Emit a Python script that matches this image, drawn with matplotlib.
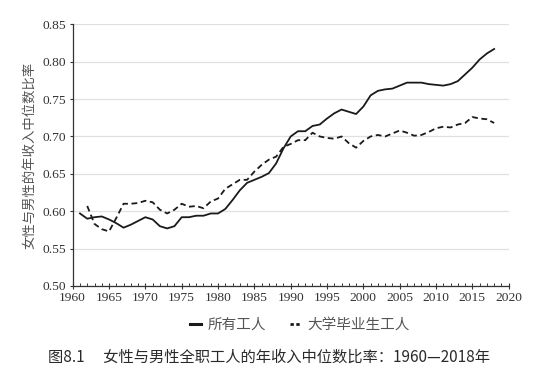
import matplotlib
matplotlib.use("Agg")
import matplotlib.pyplot as plt
from matplotlib.ticker import MultipleLocator
from matplotlib.lines import Line2D

years_all = list(range(1961, 2019))
all_workers = [0.597, 0.590, 0.592, 0.593, 0.589, 0.584, 0.578, 0.582, 0.587, 0.592,
               0.589, 0.580, 0.577, 0.580, 0.592, 0.592, 0.594, 0.594, 0.597, 0.597,
               0.603, 0.615, 0.628, 0.638, 0.642, 0.646, 0.651, 0.664, 0.684, 0.700,
               0.707, 0.707, 0.714, 0.716, 0.724, 0.731, 0.736, 0.733, 0.730, 0.740,
               0.755, 0.761, 0.763, 0.764, 0.768, 0.772, 0.772, 0.772, 0.770, 0.769,
               0.768, 0.770, 0.774, 0.783, 0.792, 0.803, 0.811, 0.817]

years_col = list(range(1962, 2019))
college = [0.607, 0.583, 0.576, 0.573, 0.591, 0.610, 0.610, 0.611, 0.614, 0.612,
           0.602, 0.597, 0.602, 0.610, 0.606, 0.607, 0.604, 0.613, 0.617, 0.630,
           0.636, 0.642, 0.642, 0.653, 0.662, 0.669, 0.673, 0.686, 0.690, 0.695,
           0.695, 0.705, 0.700, 0.698, 0.697, 0.700, 0.691, 0.685, 0.694, 0.700,
           0.702, 0.700, 0.704, 0.708, 0.705, 0.701, 0.702, 0.706, 0.711, 0.713,
           0.712, 0.716, 0.718, 0.726, 0.724, 0.723, 0.718]

labels = ["所有工人", "大学毕业生工人"]
ylabel = "女性与男性的年收入中位数比率"
title = "图8.1\u3000 女性与男性全职工人的年收入中位数比率：1960—2018年"

cjk = ["Noto Sans CJK SC", "DejaVu Sans"]
serif = "Liberation Serif"

fig = plt.figure(figsize=(5.33, 3.78), dpi=100)
ax = fig.add_axes([0.1364, 0.2434, 0.818, 0.6923])

ax.plot(years_all, all_workers, color="#1a1a1a", lw=1.3, solid_joinstyle="round")
ax.plot(years_col, college, color="#1a1a1a", lw=1.3, linestyle=(0, (3.2, 2.0)))

ax.set_xlim(1960, 2020)
ax.set_ylim(0.50, 0.85)
ax.xaxis.set_major_locator(MultipleLocator(5))
ax.xaxis.set_minor_locator(MultipleLocator(1))
ax.yaxis.set_major_locator(MultipleLocator(0.05))
ax.set_yticklabels([f"{v:.2f}" for v in ax.get_yticks()])

ax.grid(axis="y", color="#e0e0e0", lw=0.9)
ax.set_axisbelow(True)
for s in ["top", "right"]:
    ax.spines[s].set_visible(False)
for s in ["left", "bottom"]:
    ax.spines[s].set_color("#333333")
    ax.spines[s].set_linewidth(0.9)

ax.tick_params(axis="x", which="major", direction="inout", length=5, width=0.8, color="#333333",
               labelsize=9.7, labelcolor="#333333", pad=2)
ax.tick_params(axis="x", which="minor", direction="in", length=2.2, width=0.7, color="#333333")
ax.tick_params(axis="y", which="major", direction="out", length=2.5, width=0.8, color="#333333",
               labelsize=9.7, labelcolor="#333333", pad=2)
for lab in ax.get_xticklabels() + ax.get_yticklabels():
    lab.set_fontfamily(serif)

fig.text(0.056, 0.59, ylabel, rotation=90, ha="center", va="center",
         fontsize=9.6, color="#555555", family=cjk)

handles = [Line2D([], [], color="#1a1a1a", lw=2.2),
           Line2D([], [], color="#1a1a1a", lw=2.0, linestyle=(0, (1.2, 0.9)))]
fig.legend(handles, labels, loc="center", bbox_to_anchor=(0.563, 0.14), ncol=2,
           frameon=False, handlelength=0.75, handletextpad=0.45, columnspacing=1.6,
           prop={"family": cjk, "size": 10.5}, labelcolor="#555555")

fig.text(0.505, 0.055, title, ha="center", va="center", fontsize=11.0,
         color="#2a2a2a", family=cjk, fontweight="medium")

fig.savefig("out.png", dpi=100)
